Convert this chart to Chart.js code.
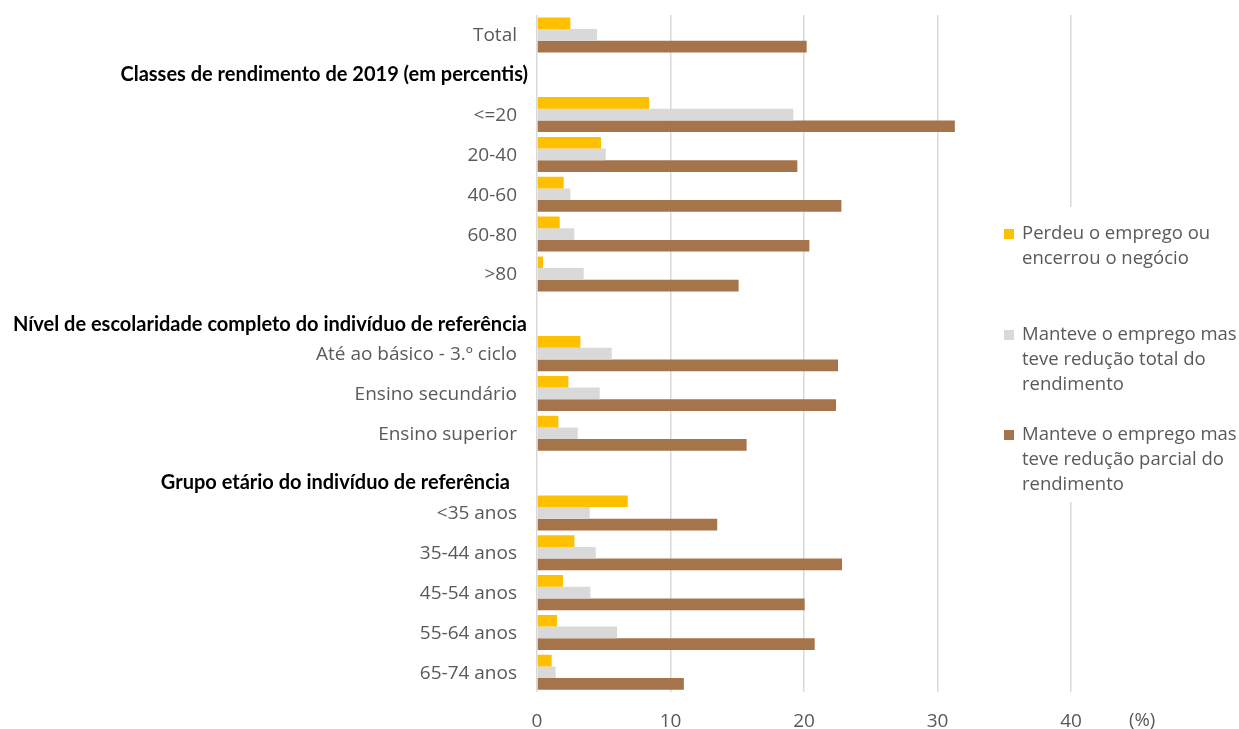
<!DOCTYPE html>
<html>
<head>
<meta charset="utf-8">
<script src="https://cdn.jsdelivr.net/npm/chart.js@4.4.1/dist/chart.umd.min.js"></script>
<style>
  html, body { margin: 0; padding: 0; background: #fff; }
  #wrap { width: 1239px; height: 729px; position: relative; }
</style>
</head>
<body>
<div id="wrap"><canvas id="chart"></canvas></div>
<script>
// categories (header rows have no bars)
const categories = [
  'Total',
  'Classes de rendimento de 2019 (em percentis)',
  '<=20', '20-40', '40-60', '60-80', '>80',
  'Nível de escolaridade completo do indivíduo de referência',
  'Até ao básico - 3.º ciclo', 'Ensino secundário', 'Ensino superior',
  'Grupo etário do indivíduo de referência',
  '<35 anos', '35-44 anos', '45-54 anos', '55-64 anos', '65-74 anos'
];
const headerRows = [1, 7, 11];

const perdeuEmprego   = [2.5, null, 8.4, 4.8, 2.0, 1.7, 0.45, null, 3.25, 2.35, 1.6, null, 6.8, 2.8, 1.95, 1.5, 1.1];
const reducaoTotal    = [4.5, null, 19.2, 5.15, 2.5, 2.8, 3.5, null, 5.6, 4.7, 3.05, null, 3.95, 4.4, 4.0, 6.0, 1.4];
const reducaoParcial  = [20.2, null, 31.3, 19.5, 22.8, 20.4, 15.1, null, 22.55, 22.4, 15.7, null, 13.5, 22.85, 20.05, 20.8, 11.0];

const seriesNames = [
  ['Perdeu o emprego ou', 'encerrou o negócio'],
  ['Manteve o emprego mas', 'teve redução total do', 'rendimento'],
  ['Manteve o emprego mas', 'teve redução parcial do', 'rendimento']
];
const seriesColors = ['#FFC000', '#D9D9D9', '#A5744B'];
const xTicks = [0, 10, 20, 30, 40];

const textGray = '#595959';
const regularFont = '"Open Sans", sans-serif';
const headerFont = 'Lato, sans-serif';

// header label tweaks: [dx, dy]
const headerShift = { 1: [11, 0], 7: [10, 11], 11: [-7, 9] };

const labelsPlugin = {
  id: 'labelsPlugin',
  afterDraw(chart) {
    const ctx = chart.ctx;
    const ys = chart.scales.y;
    const area = chart.chartArea;
    ctx.save();
    ctx.textAlign = 'right';
    ctx.textBaseline = 'middle';
    categories.forEach((c, i) => {
      const y = ys.getPixelForValue(i);
      if (headerRows.includes(i)) {
        const s = headerShift[i];
        ctx.font = 'bold 20px ' + headerFont;
        ctx.fillStyle = '#000';
        ctx.fillText(c, area.left - 20 + s[0], y + s[1]);
      } else {
        ctx.font = '19px ' + regularFont;
        ctx.fillStyle = textGray;
        ctx.fillText(c, area.left - 20, y + 1);
      }
    });

    // legend, on a white panel over the gridline
    ctx.fillStyle = '#fff';
    ctx.fillRect(1000, 207, 239, 295);
    ctx.textAlign = 'left';
    ctx.font = '18.5px ' + regularFont;
    const tops = [234, 335, 435];
    seriesNames.forEach((lines, k) => {
      ctx.fillStyle = seriesColors[k];
      ctx.fillRect(1004, tops[k] - 5, 10, 10);
      ctx.fillStyle = textGray;
      lines.forEach((ln, j) => ctx.fillText(ln, 1022, tops[k] + j * 25));
    });

    // unit
    ctx.font = '18.5px ' + regularFont;
    ctx.fillText('(%)', 1129, 721);
    ctx.restore();
  }
};

new Chart(document.getElementById('chart'), {
  type: 'bar',
  data: {
    labels: categories,
    datasets: [
      { label: seriesNames[0].join(' '), data: perdeuEmprego, backgroundColor: seriesColors[0] },
      { label: seriesNames[1].join(' '), data: reducaoTotal, backgroundColor: seriesColors[1] },
      { label: seriesNames[2].join(' '), data: reducaoParcial, backgroundColor: seriesColors[2] }
    ]
  },
  options: {
    indexAxis: 'y',
    responsive: true,
    maintainAspectRatio: false,
    animation: false,
    datasets: { bar: { categoryPercentage: 0.88, barPercentage: 1.0 } },
    layout: { padding: { left: 537, right: 168, top: 15, bottom: -22 } },
    plugins: { legend: { display: false }, tooltip: { enabled: false } },
    scales: {
      y: { display: false },
      x: {
        min: 0, max: 40,
        afterBuildTicks: (axis) => { axis.ticks = xTicks.map(v => ({ value: v })); },
        grid: { color: '#D9D9D9', lineWidth: 1.5, drawTicks: false },
        border: { display: false },
        ticks: { color: textGray, font: { family: regularFont, size: 19 }, padding: 18 }
      }
    }
  },
  plugins: [labelsPlugin]
});
</script>
</body>
</html>
